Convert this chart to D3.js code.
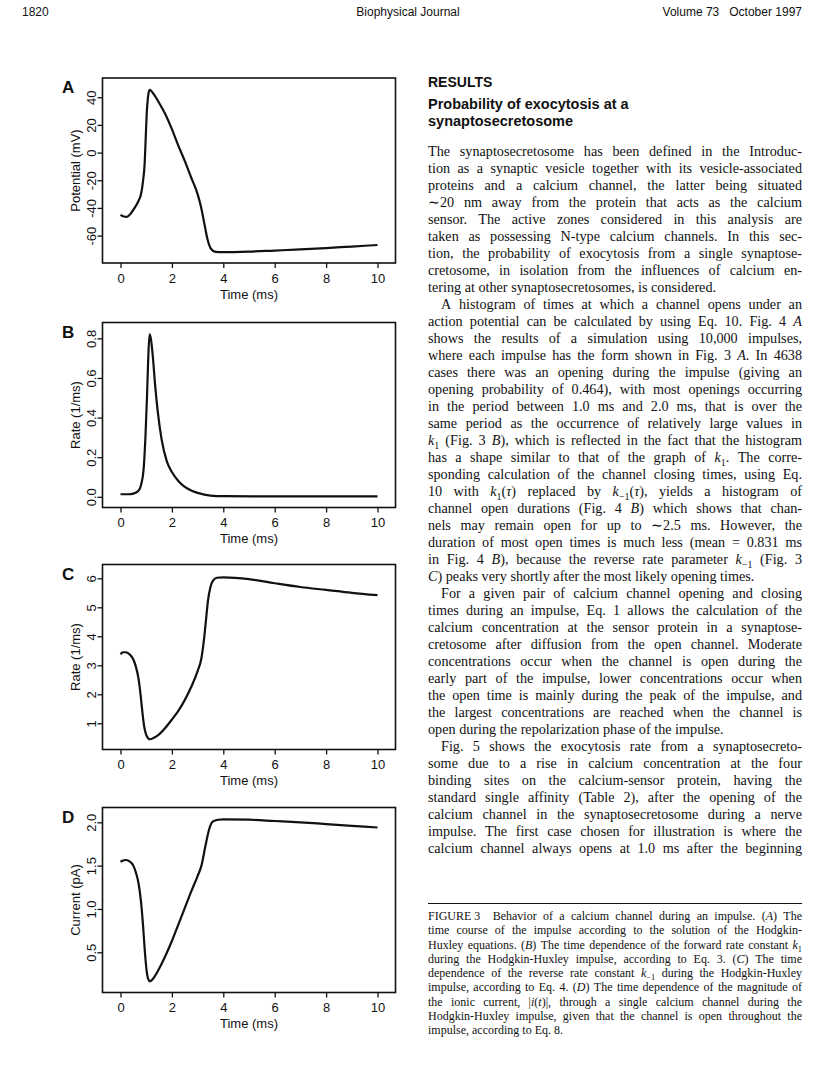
<!DOCTYPE html>
<html>
<head>
<meta charset="utf-8">
<script src="https://cdn.jsdelivr.net/npm/d3@7"></script>
<style>
body { margin: 0; background: #fff; }
svg { display: block; }
</style>
</head>
<body>
<script>
// ---------------- datos ----------------
var xTicks = [0, 2, 4, 6, 8, 10];

// A: potencial de membrana
var timeA = [0, 0.1, 0.25, 0.4, 0.55, 0.7, 0.8, 0.88, 0.94, 0.98, 1.02, 1.07, 1.13, 1.2, 1.3, 1.5, 1.75, 2.0, 2.25, 2.5, 2.75, 3.0, 3.13, 3.26, 3.39, 3.52, 3.7, 4.0, 5, 6, 7, 8, 9, 10];
var potentialA = [-45, -46, -46.5, -44, -40, -35, -30, -20, -8, 10, 28, 40, 45.3, 44.5, 42, 36, 27.5, 17, 5, -6, -18, -30, -39, -51, -63, -69.5, -71.8, -72, -71.6, -70.8, -70, -69, -67.9, -66.8];
var ticksA = [-60, -40, -20, 0, 20, 40];

// B: constante k1
var timeB = [0, 0.3, 0.5, 0.7, 0.8, 0.9, 0.97, 1.03, 1.08, 1.13, 1.18, 1.25, 1.35, 1.45, 1.6, 1.8, 2.0, 2.25, 2.5, 2.75, 3.0, 3.5, 4.0, 6, 10];
var rateB = [0.013, 0.013, 0.016, 0.03, 0.06, 0.14, 0.3, 0.5, 0.7, 0.82, 0.8, 0.72, 0.56, 0.43, 0.29, 0.18, 0.125, 0.08, 0.05, 0.032, 0.02, 0.006, 0.003, 0.002, 0.002];
var ticksB = [0, 0.2, 0.4, 0.6, 0.8];

// C: constante k-1
var timeC = [0, 0.1, 0.2, 0.35, 0.5, 0.6, 0.7, 0.78, 0.85, 0.92, 1.0, 1.08, 1.15, 1.3, 1.5, 1.75, 2.0, 2.25, 2.5, 2.75, 3.0, 3.15, 3.25, 3.32, 3.4, 3.5, 3.6, 3.75, 4.0, 5, 6, 7, 8, 9, 10];
var rateC = [3.38, 3.45, 3.45, 3.38, 3.2, 2.95, 2.55, 2.0, 1.4, 0.9, 0.6, 0.48, 0.45, 0.5, 0.62, 0.85, 1.13, 1.43, 1.8, 2.25, 2.8, 3.25, 3.9, 4.5, 5.2, 5.7, 5.92, 6.02, 6.03, 5.97, 5.83, 5.7, 5.6, 5.5, 5.42];
var ticksC = [1, 2, 3, 4, 5, 6];

// D: corriente ionica
var timeD = [0, 0.1, 0.2, 0.35, 0.5, 0.6, 0.7, 0.8, 0.88, 0.95, 1.02, 1.08, 1.15, 1.25, 1.5, 1.75, 2.0, 2.25, 2.5, 2.75, 3.0, 3.15, 3.3, 3.45, 3.6, 3.8, 4.0, 5, 6, 7, 8, 9, 10];
var currentD = [1.545, 1.56, 1.565, 1.55, 1.5, 1.42, 1.3, 1.08, 0.8, 0.5, 0.28, 0.19, 0.165, 0.19, 0.31, 0.46, 0.63, 0.82, 1.01, 1.2, 1.38, 1.5, 1.72, 1.92, 2.01, 2.03, 2.035, 2.03, 2.015, 2.0, 1.98, 1.96, 1.94];
var ticksD = [0.5, 1.0, 1.5, 2.0];

// ---------------- texto de la pagina ----------------
var headings = ["RESULTS", "Probability of exocytosis at a", "synaptosecretosome"];

var paragraphs = [
 ["The synaptosecretosome has been defined in the Introduc-",
  "tion as a synaptic vesicle together with its vesicle-associated",
  "proteins and a calcium channel, the latter being situated",
  "\u223C20 nm away from the protein that acts as the calcium",
  "sensor. The active zones considered in this analysis are",
  "taken as possessing N-type calcium channels. In this sec-",
  "tion, the probability of exocytosis from a single synaptose-",
  "cretosome, in isolation from the influences of calcium en-",
  "tering at other synaptosecretosomes, is considered."],
 ["A histogram of times at which a channel opens under an",
  "action potential can be calculated by using Eq. 10. Fig. 4 *A*",
  "shows the results of a simulation using 10,000 impulses,",
  "where each impulse has the form shown in Fig. 3 *A*. In 4638",
  "cases there was an opening during the impulse (giving an",
  "opening probability of 0.464), with most openings occurring",
  "in the period between 1.0 ms and 2.0 ms, that is over the",
  "same period as the occurrence of relatively large values in",
  "*k*[1] (Fig. 3 *B*), which is reflected in the fact that the histogram",
  "has a shape similar to that of the graph of *k*[1]. The corre-",
  "sponding calculation of the channel closing times, using Eq.",
  "10 with *k*[1](*\u03C4*) replaced by *k*[\u22121](*\u03C4*), yields a histogram of",
  "channel open durations (Fig. 4 *B*) which shows that chan-",
  "nels may remain open for up to \u223C2.5 ms. However, the",
  "duration of most open times is much less (mean = 0.831 ms",
  "in Fig. 4 *B*), because the reverse rate parameter *k*[\u22121] (Fig. 3",
  "*C*) peaks very shortly after the most likely opening times."],
 ["For a given pair of calcium channel opening and closing",
  "times during an impulse, Eq. 1 allows the calculation of the",
  "calcium concentration at the sensor protein in a synaptose-",
  "cretosome after diffusion from the open channel. Moderate",
  "concentrations occur when the channel is open during the",
  "early part of the impulse, lower concentrations occur when",
  "the open time is mainly during the peak of the impulse, and",
  "the largest concentrations are reached when the channel is",
  "open during the repolarization phase of the impulse."],
 ["Fig. 5 shows the exocytosis rate from a synaptosecreto-",
  "some due to a rise in calcium concentration at the four",
  "binding sites on the calcium-sensor protein, having the",
  "standard single affinity (Table 2), after the opening of the",
  "calcium channel in the synaptosecretosome during a nerve",
  "impulse. The first case chosen for illustration is where the",
  "calcium channel always opens at 1.0 ms after the beginning"]
];

var caption = [
  "FIGURE\u00A03\u00A0\u00A0 Behavior of a calcium channel during an impulse. (*A*) The",
  "time course of the impulse according to the solution of the Hodgkin-",
  "Huxley equations. (*B*) The time dependence of the forward rate constant *k*[1]",
  "during the Hodgkin-Huxley impulse, according to Eq. 3. (*C*) The time",
  "dependence of the reverse rate constant *k*[\u22121] during the Hodgkin-Huxley",
  "impulse, according to Eq. 4. (*D*) The time dependence of the magnitude of",
  "the ionic current, |*i*(*t*)|, through a single calcium channel during the",
  "Hodgkin-Huxley impulse, given that the channel is open throughout the",
  "impulse, according to Eq. 8."
];

// ---------------- svg ----------------
var W = 816, H = 1090;
var sans = "'Liberation Sans', Arial, Helvetica, sans-serif";
var serif = "'Liberation Serif', 'Times New Roman', serif";
var ink = "#111";

var svg = d3.select("body").append("svg")
  .attr("width", W)
  .attr("height", H)
  .style("background", "#fff");

// cabecera
var head = svg.append("g").attr("font-family", sans).attr("font-size", 12).attr("fill", ink);
head.append("text").attr("x", 22).attr("y", 16).text("1820");
head.append("text").attr("x", 408).attr("y", 16).attr("text-anchor", "middle").text("Biophysical Journal");
head.append("text").attr("x", 802).attr("y", 16).attr("text-anchor", "end").text("Volume 73\u00A0\u00A0 October 1997");

// ---------------- los cuatro graficos ----------------
var frameLeft = 102.5, frameRight = 395.5, frameH = 185;

var panels = [
  {letter: "A", top: 78,    t: timeA, v: potentialA, dom: [-79.8, 53.9],  ticks: ticksA, fmt: function(d) { return String(d); }, label: "Potential (mV)"},
  {letter: "B", top: 322.5, t: timeB, v: rateB,      dom: [-0.054, 0.88], ticks: ticksB, fmt: d3.format(".1f"), label: "Rate (1/ms)"},
  {letter: "C", top: 564.5, t: timeC, v: rateC,      dom: [0.097, 6.476], ticks: ticksC, fmt: d3.format("d"),   label: "Rate (1/ms)"},
  {letter: "D", top: 807.5, t: timeD, v: currentD,   dom: [0.036, 2.171], ticks: ticksD, fmt: d3.format(".1f"), label: "Current (pA)"}
];

// escala x comun: 0 -> 120.5, 10 -> 377.5
var x = d3.scaleLinear().domain([-0.7, 10.7]).range([frameLeft, frameRight]);

panels.forEach(function(p) {
  var y = d3.scaleLinear().domain(p.dom).range([p.top + frameH, p.top]);
  var g = svg.append("g").attr("font-family", sans).attr("fill", ink);

  // eje x
  var gx = g.append("g")
    .attr("transform", "translate(0," + (p.top + frameH) + ")")
    .call(d3.axisBottom(x).tickValues(xTicks).tickSize(5).tickPadding(5.5));
  gx.select(".domain").remove();
  gx.selectAll("line").attr("stroke", ink).attr("stroke-width", 1.3);
  gx.selectAll("text").attr("font-size", 13).attr("font-family", sans).attr("fill", ink);

  // eje y con etiquetas giradas
  var gy = g.append("g")
    .attr("transform", "translate(" + frameLeft + ",0)")
    .call(d3.axisLeft(y).tickValues(p.ticks).tickFormat(p.fmt).tickSize(5));
  gy.select(".domain").remove();
  gy.selectAll("line").attr("stroke", ink).attr("stroke-width", 1.3);
  gy.selectAll("text")
    .attr("x", null).attr("dy", null)
    .attr("text-anchor", "middle")
    .attr("transform", "translate(-7,0) rotate(-90)")
    .attr("font-size", 13).attr("font-family", sans).attr("fill", ink);

  // marco
  g.append("rect")
    .attr("x", frameLeft).attr("y", p.top)
    .attr("width", frameRight - frameLeft).attr("height", frameH)
    .attr("fill", "none").attr("stroke", ink).attr("stroke-width", 1.6);

  // curva
  var line = d3.line()
    .x(function(d) { return x(d[0]); })
    .y(function(d) { return y(d[1]); })
    .curve(d3.curveMonotoneX);
  g.append("path")
    .datum(d3.zip(p.t, p.v))
    .attr("d", line)
    .attr("fill", "none").attr("stroke", ink).attr("stroke-width", 2.2)
    .attr("stroke-linejoin", "round");

  // titulos de ejes
  g.append("text")
    .attr("x", (x(0) + x(10)) / 2).attr("y", p.top + frameH + 35.5)
    .attr("text-anchor", "middle").attr("font-size", 13)
    .text("Time (ms)");
  g.append("text")
    .attr("transform", "translate(" + (frameLeft - 23) + "," + (p.top + frameH / 2) + ") rotate(-90)")
    .attr("text-anchor", "middle").attr("font-size", 13)
    .text(p.label);

  // letra del panel
  g.append("text")
    .attr("x", 62).attr("y", p.top + 15)
    .attr("font-size", 17).attr("font-weight", "bold")
    .text(p.letter);
});

// ---------------- columna de texto ----------------
var colX = 428, colW = 374;

// una palabra con cursiva (*..*) y subindices ([..])
function addWord(g, word, size) {
  var t = g.append("text").attr("font-size", size);
  var parts = word.split(/(\*[^*]+\*|\[[^\]]+\])/).filter(function(s) { return s.length > 0; });
  var shift = 0;
  parts.forEach(function(s) {
    var ts = t.append("tspan");
    var want = 0;
    if (s[0] == "*") {
      ts.attr("font-style", "italic").text(s.slice(1, -1));
    } else if (s[0] == "[") {
      want = size * 0.25;
      ts.attr("font-size", size * 0.7).text(s.slice(1, -1));
    } else {
      ts.text(s);
    }
    if (want != shift) { ts.attr("dy", want - shift); shift = want; }
  });
  return t;
}

// dibuja una linea justificada (o no, si es la ultima del parrafo)
function drawLine(g, str, y, size, indent, justify) {
  var words = str.split(" ");
  var nodes = words.map(function(w) { return addWord(g, w, size); });
  var widths = nodes.map(function(n) { return n.node().getComputedTextLength(); });
  var sum = d3.sum(widths);
  var gap = size * 0.25;
  if (justify && words.length > 1) gap = Math.max(1.5, (colW - indent - sum) / (words.length - 1));
  var cx = colX + indent;
  nodes.forEach(function(n, i) {
    n.attr("x", cx).attr("y", y);
    cx += widths[i] + gap;
  });
}

var txt = svg.append("g").attr("fill", ink);

// titulos de la seccion
txt.append("text").attr("x", colX).attr("y", 86.5)
  .attr("font-family", sans).attr("font-weight", "bold").attr("font-size", 14)
  .text(headings[0]);
txt.append("text").attr("x", colX).attr("y", 109)
  .attr("font-family", sans).attr("font-weight", "bold").attr("font-size", 14.5)
  .text(headings[1]);
txt.append("text").attr("x", colX).attr("y", 126)
  .attr("font-family", sans).attr("font-weight", "bold").attr("font-size", 14.5)
  .text(headings[2]);

// cuerpo
var body = txt.append("g").attr("font-family", serif);
var lineY = 156, lead = 17;
paragraphs.forEach(function(par, pi) {
  par.forEach(function(str, li) {
    var indent = (pi > 0 && li == 0) ? 13 : 0;
    var last = (li == par.length - 1) && pi < paragraphs.length - 1;
    drawLine(body, str, lineY, 14.2, indent, !last);
    lineY += lead;
  });
});

// pie de figura
txt.append("line")
  .attr("x1", colX).attr("x2", colX + colW)
  .attr("y1", 903.5).attr("y2", 903.5)
  .attr("stroke", ink).attr("stroke-width", 1);

var cap = txt.append("g").attr("font-family", serif);
caption.forEach(function(str, i) {
  drawLine(cap, str, 920 + i * 14.25, 12, 0, i < caption.length - 1);
});
</script>
</body>
</html>
